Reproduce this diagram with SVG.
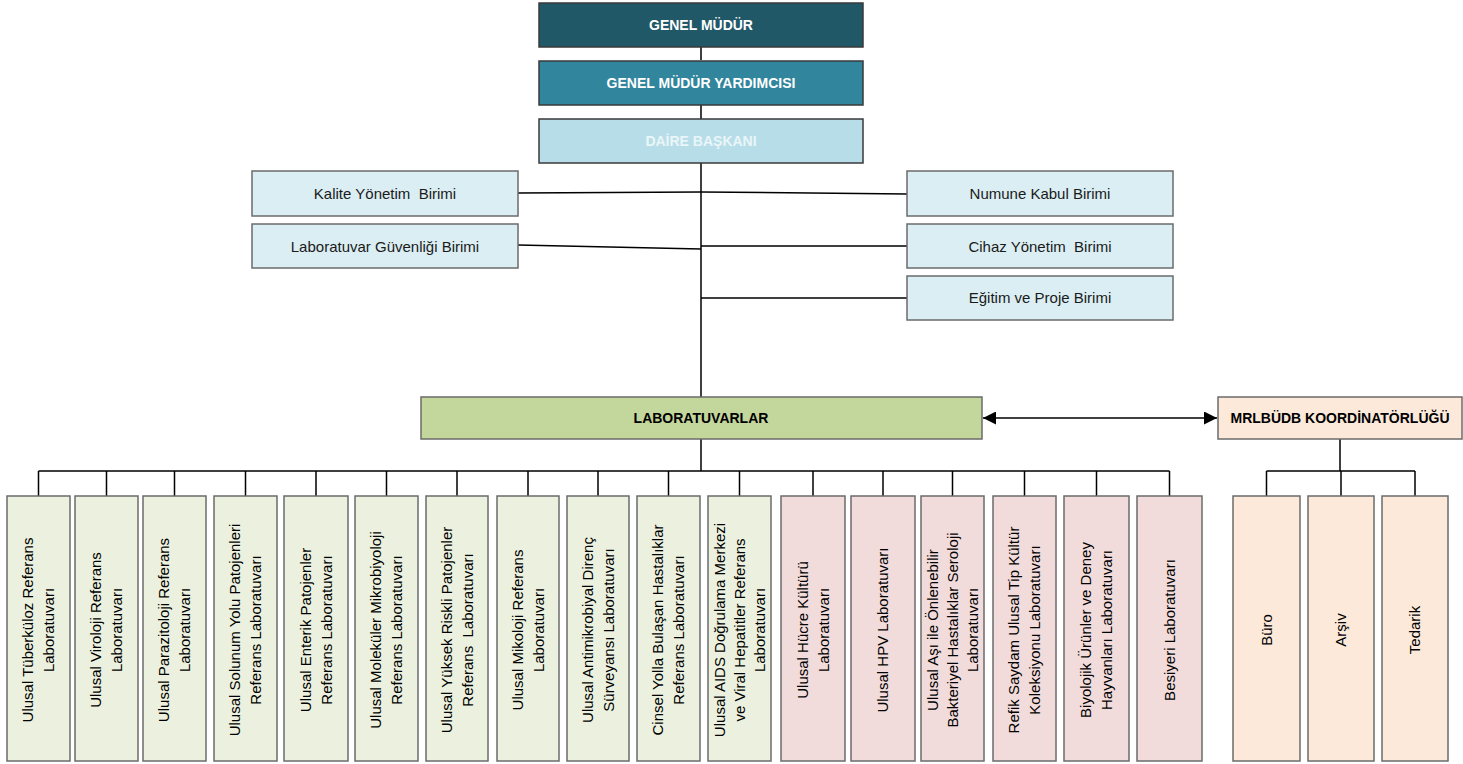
<svg xmlns="http://www.w3.org/2000/svg" width="1463" height="764" viewBox="0 0 1463 764">
<style>
.bx{stroke:#6b6b6b;stroke-width:1.5}
.top{stroke:#3a3a3a;stroke-width:1.5}
.ln{stroke:#000;stroke-width:1.5;fill:none}
.tb{font-family:"Liberation Sans",Arial,sans-serif;font-size:14px;font-weight:bold;text-anchor:middle}
.ts{font-family:"Liberation Sans",Arial,sans-serif;font-size:15px;fill:#1a1a1a;text-anchor:middle;white-space:pre}
.tv{font-family:"Liberation Sans",Arial,sans-serif;font-size:15px;fill:#000;text-anchor:middle;white-space:pre}
.g{fill:#EBF1DE}
.p{fill:#F2DCDB}
.o{fill:#FCE9DA}
.b{fill:#DAEEF3}
</style>
<defs>
<marker id="ah" viewBox="0 0 10 10" refX="10" refY="5" markerWidth="18" markerHeight="13" markerUnits="userSpaceOnUse" orient="auto-start-reverse">
<path d="M0,0 L10,5 L0,10 z" fill="#000"/>
</marker>
</defs>
<g id="connectors">
<path class="ln" d="M701,47 V60 M701,105 V119 M701,163 V397 M701,439 V471"/>
<path class="ln" d="M518,193 L701,192 L907,194 M518,245 L701,249 M701,246 H907 M701,298 H907"/>
<path class="ln" d="M38.5,471 H1169.5 M38.5,471 V496 M106.5,471 V496 M174.5,471 V496 M245.5,471 V496 M316,471 V496 M386.5,471 V496 M457,471 V496 M528,471 V496 M598,471 V496 M668.5,471 V496 M739.5,471 V496 M813,471 V496 M883,471 V496 M952.5,471 V496 M1024.5,471 V496 M1096.5,471 V496 M1169.5,471 V496"/>
<path class="ln" d="M1340,439 V471 M1266.5,471 H1415 M1266.5,471 V496 M1341,471 V496 M1415,471 V496"/>
<line class="ln" x1="983" y1="418" x2="1217" y2="418" marker-start="url(#ah)" marker-end="url(#ah)"/>
</g>
<g id="n-genel-mudur"><rect class="top" x="539" y="3" width="324" height="44" fill="#215868"/><text class="tb" x="701" y="30" fill="#fff">GENEL MÜDÜR</text></g>
<g id="n-gmy"><rect class="top" x="539" y="61" width="324" height="44" fill="#31859C"/><text class="tb" x="701" y="88" fill="#fff">GENEL MÜDÜR YARDIMCISI</text></g>
<g id="n-daire"><rect class="top" x="539" y="119" width="324" height="44" fill="#B7DEE8"/><text class="tb" x="701" y="146" fill="#EAF5F8">DAİRE BAŞKANI</text></g>
<g id="n-kalite"><rect class="bx b" x="252" y="171" width="266" height="45"/><text class="ts" x="385" y="199">Kalite Yönetim  Birimi</text></g>
<g id="n-labguv"><rect class="bx b" x="252" y="224" width="266" height="44"/><text class="ts" x="385" y="252">Laboratuvar Güvenliği Birimi</text></g>
<g id="n-numune"><rect class="bx b" x="907" y="171" width="266" height="45"/><text class="ts" x="1040" y="199">Numune Kabul Birimi</text></g>
<g id="n-cihaz"><rect class="bx b" x="907" y="224" width="266" height="44"/><text class="ts" x="1040" y="252">Cihaz Yönetim  Birimi</text></g>
<g id="n-egitim"><rect class="bx b" x="907" y="276" width="266" height="44"/><text class="ts" x="1040" y="303">Eğitim ve Proje Birimi</text></g>
<g id="n-lab"><rect class="bx" x="421" y="397" width="561" height="42" fill="#C3D69B"/><text class="tb" x="701" y="423" fill="#000" font-size="13.5">LABORATUVARLAR</text></g>
<g id="n-mrl"><rect class="bx o" x="1218" y="397" width="244" height="42" fill="#FDE9D9"/><text class="tb" x="1340" y="423" fill="#000" font-size="13.5">MRLBÜDB KOORDİNATÖRLÜĞÜ</text></g>

<g id="b1"><rect class="bx g" x="7" y="496" width="63" height="265"/><text class="tv" transform="translate(38.5,630) rotate(-90)"><tspan x="0" y="-5.5">Ulusal Tüberküloz Referans</tspan><tspan x="0" y="15.5">Laboratuvarı</tspan></text></g>
<g id="b2"><rect class="bx g" x="75" y="496" width="63" height="265"/><text class="tv" transform="translate(106.5,630) rotate(-90)"><tspan x="0" y="-5.5">Ulusal Viroloji Referans</tspan><tspan x="0" y="15.5">Laboratuvarı</tspan></text></g>
<g id="b3"><rect class="bx g" x="143" y="496" width="63" height="265"/><text class="tv" transform="translate(174.5,630) rotate(-90)"><tspan x="0" y="-5.5">Ulusal Parazitoloji Referans</tspan><tspan x="0" y="15.5">Laboratuvarı</tspan></text></g>
<g id="b4"><rect class="bx g" x="214" y="496" width="63" height="265"/><text class="tv" transform="translate(245.5,630) rotate(-90)"><tspan x="0" y="-5.5">Ulusal Solunum Yolu Patojenleri</tspan><tspan x="0" y="15.5">Referans Laboratuvarı</tspan></text></g>
<g id="b5"><rect class="bx g" x="284" y="496" width="64" height="265"/><text class="tv" transform="translate(316,630) rotate(-90)"><tspan x="0" y="-5.5">Ulusal Enterik Patojenler</tspan><tspan x="0" y="15.5">Referans Laboratuvarı</tspan></text></g>
<g id="b6"><rect class="bx g" x="355" y="496" width="63" height="265"/><text class="tv" transform="translate(386.5,630) rotate(-90)"><tspan x="0" y="-5.5">Ulusal Moleküler Mikrobiyoloji</tspan><tspan x="0" y="15.5">Referans Laboratuvarı</tspan></text></g>
<g id="b7"><rect class="bx g" x="426" y="496" width="62" height="265"/><text class="tv" transform="translate(457,630) rotate(-90)"><tspan x="0" y="-5.5">Ulusal Yüksek Riskli Patojenler</tspan><tspan x="0" y="15.5">Referans  Laboratuvarı</tspan></text></g>
<g id="b8"><rect class="bx g" x="497" y="496" width="62" height="265"/><text class="tv" transform="translate(528,630) rotate(-90)"><tspan x="0" y="-5.5">Ulusal Mikoloji Referans</tspan><tspan x="0" y="15.5">Laboratuvarı</tspan></text></g>
<g id="b9"><rect class="bx g" x="567" y="496" width="62" height="265"/><text class="tv" transform="translate(598,630) rotate(-90)"><tspan x="0" y="-5.5">Ulusal Antimikrobiyal Direnç</tspan><tspan x="0" y="15.5">Sürveyansı Laboratuvarı</tspan></text></g>
<g id="b10"><rect class="bx g" x="637" y="496" width="63" height="265"/><text class="tv" transform="translate(668.5,630) rotate(-90)"><tspan x="0" y="-5.5">Cinsel Yolla Bulaşan Hastalıklar</tspan><tspan x="0" y="15.5">Referans Laboratuvarı</tspan></text></g>
<g id="b11"><rect class="bx g" x="708" y="496" width="63" height="265"/><text class="tv" transform="translate(739.5,630) rotate(-90)"><tspan x="0" y="-15">Ulusal AIDS Doğrulama Merkezi</tspan><tspan x="0" y="5">ve Viral Hepatitler Referans</tspan><tspan x="0" y="25">Laboratuvarı</tspan></text></g>
<g id="b12"><rect class="bx p" x="781" y="496" width="64" height="265"/><text class="tv" transform="translate(813,630) rotate(-90)"><tspan x="0" y="-5.5">Ulusal Hücre Kültürü</tspan><tspan x="0" y="15.5">Laboratuvarı</tspan></text></g>
<g id="b13"><rect class="bx p" x="851" y="496" width="64" height="265"/><text class="tv" transform="translate(883,630) rotate(-90)"><tspan x="0" y="5">Ulusal HPV Laboratuvarı</tspan></text></g>
<g id="b14"><rect class="bx p" x="921" y="496" width="63" height="265"/><text class="tv" transform="translate(952.5,630) rotate(-90)"><tspan x="0" y="-15">Ulusal Aşı ile Önlenebilir</tspan><tspan x="0" y="5">Bakteriyel Hastalıklar Seroloji</tspan><tspan x="0" y="25">Laboratuvarı</tspan></text></g>
<g id="b15"><rect class="bx p" x="993" y="496" width="63" height="265"/><text class="tv" transform="translate(1024.5,630) rotate(-90)"><tspan x="0" y="-5.5">Refik Saydam Ulusal Tip Kültür</tspan><tspan x="0" y="15.5">Koleksiyonu Laboratuvarı</tspan></text></g>
<g id="b16"><rect class="bx p" x="1064" y="496" width="65" height="265"/><text class="tv" transform="translate(1096.5,630) rotate(-90)"><tspan x="0" y="-5.5">Biyolojik Ürünler ve Deney</tspan><tspan x="0" y="15.5">Hayvanları Laboratuvarı</tspan></text></g>
<g id="b17"><rect class="bx p" x="1137" y="496" width="65" height="265"/><text class="tv" transform="translate(1169.5,630) rotate(-90)"><tspan x="0" y="5">Besiyeri Laboratuvarı</tspan></text></g>
<g id="b18"><rect class="bx o" x="1233" y="496" width="67" height="265"/><text class="tv" transform="translate(1266.5,630) rotate(-90)"><tspan x="0" y="5">Büro</tspan></text></g>
<g id="b19"><rect class="bx o" x="1308" y="496" width="66" height="265"/><text class="tv" transform="translate(1341,630) rotate(-90)"><tspan x="0" y="5">Arşiv</tspan></text></g>
<g id="b20"><rect class="bx o" x="1382" y="496" width="66" height="265"/><text class="tv" transform="translate(1415,630) rotate(-90)"><tspan x="0" y="5">Tedarik</tspan></text></g>
</svg>
